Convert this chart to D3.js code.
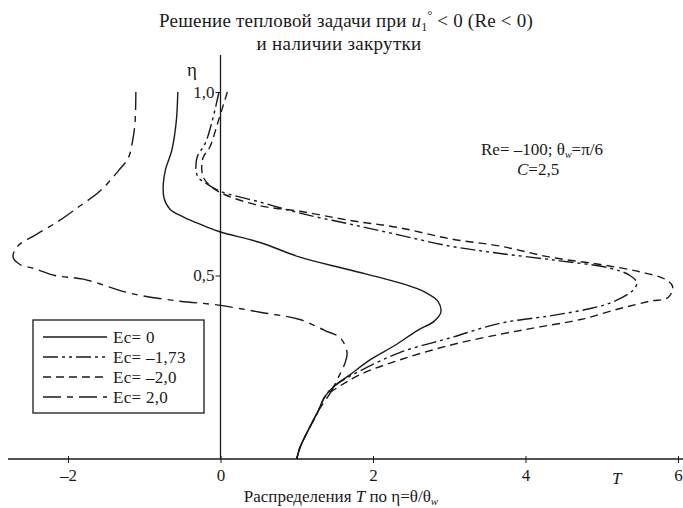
<!DOCTYPE html>
<html>
<head>
<meta charset="utf-8">
<script src="https://cdn.jsdelivr.net/npm/d3@7"></script>
<style>
  body { margin: 0; background: #fff; }
  svg text { font-family: "Liberation Serif", "DejaVu Serif", serif; fill: #1a1a1a; }
</style>
</head>
<body>
<svg id="chart" width="683" height="508"></svg>
<script>
// T (x) and eta (y) pairs, one list per Ec value
var ecZero = [
  [-0.56, 1.00], [-0.58, 0.92], [-0.64, 0.84], [-0.72, 0.79], [-0.75, 0.75], [-0.74, 0.71],
  [-0.66, 0.68], [-0.49, 0.66], [-0.27, 0.64], [-0.02, 0.62], [0.52, 0.59], [1.04, 0.55],
  [1.70, 0.515], [2.35, 0.48], [2.68, 0.455], [2.85, 0.43], [2.89, 0.40], [2.80, 0.375],
  [2.58, 0.35], [2.29, 0.31], [1.96, 0.27], [1.70, 0.23], [1.50, 0.20], [1.37, 0.17],
  [1.28, 0.13], [1.13, 0.07], [1.04, 0.03], [1.00, 0.00]
];
var ecM173 = [
  [-0.02, 1.00], [-0.11, 0.92], [-0.20, 0.86], [-0.31, 0.82], [-0.30, 0.77], [-0.18, 0.75],
  [-0.01, 0.73], [0.52, 0.70], [1.04, 0.67], [1.70, 0.64], [2.35, 0.61], [3.01, 0.58],
  [3.67, 0.56], [4.45, 0.54], [5.11, 0.52], [5.37, 0.50], [5.46, 0.48], [5.41, 0.46],
  [5.17, 0.43], [4.85, 0.41], [4.32, 0.39], [3.67, 0.37], [3.01, 0.33], [2.35, 0.29],
  [1.83, 0.24], [1.50, 0.20], [1.37, 0.17], [1.28, 0.13], [1.13, 0.07], [1.04, 0.03], [1.00, 0.00]
];
var ecM20 = [
  [0.09, 1.00], [-0.03, 0.92], [-0.14, 0.85], [-0.23, 0.82], [-0.23, 0.77], [-0.11, 0.74],
  [0.06, 0.72], [0.52, 0.69], [1.04, 0.675], [1.70, 0.65], [2.35, 0.63], [3.01, 0.60],
  [3.67, 0.58], [4.32, 0.55], [4.98, 0.53], [5.50, 0.51], [5.83, 0.49], [5.93, 0.47],
  [5.87, 0.44], [5.63, 0.43], [5.24, 0.41], [4.72, 0.38], [4.19, 0.36], [3.67, 0.34],
  [3.01, 0.31], [2.35, 0.27], [1.83, 0.23], [1.50, 0.19], [1.37, 0.17], [1.28, 0.13],
  [1.13, 0.07], [1.04, 0.03], [1.00, 0.00]
];
var ecP20 = [
  [-1.11, 1.00], [-1.12, 0.92], [-1.15, 0.87], [-1.21, 0.82], [-1.32, 0.79], [-1.58, 0.73],
  [-1.84, 0.69], [-2.11, 0.65], [-2.43, 0.61], [-2.66, 0.58], [-2.72, 0.55], [-2.63, 0.53],
  [-2.46, 0.52], [-2.17, 0.50], [-1.80, 0.49], [-1.15, 0.45], [-0.53, 0.43], [-0.05, 0.42],
  [0.52, 0.40], [1.04, 0.38], [1.37, 0.35], [1.57, 0.33], [1.66, 0.29], [1.63, 0.26],
  [1.54, 0.22], [1.44, 0.18], [1.28, 0.13], [1.13, 0.07], [1.04, 0.03], [1.00, 0.00]
];

var seriesNames = ["Ec= 0", "Ec= \u20131,73", "Ec= \u20132,0", "Ec= 2,0"];
var seriesData = [ecZero, ecM173, ecM20, ecP20];
var dashes = ["none", "15,4,3,4,3,4", "8,5", "18,6,6,6"];

var xTicks = [-2, 0, 2, 4, 6];
var yTicks = [0.5, 1.0];

var svg = d3.select("#chart");
var ink = "#1a1a1a";

var x = d3.scaleLinear().domain([-2, 6]).range([68, 678]);
var y = d3.scaleLinear().domain([0, 1]).range([459, 92]);

// title
var title = svg.append("text").attr("x", 346).attr("y", 27)
  .attr("text-anchor", "middle").attr("font-size", 19).attr("letter-spacing", 0.2);
title.append("tspan").text("Решение тепловой задачи при ");
title.append("tspan").attr("font-style", "italic").text("u");
title.append("tspan").attr("font-size", 12).attr("dy", 4).text("1");
title.append("tspan").attr("font-size", 12).attr("dy", -12).text("°");
title.append("tspan").attr("dy", 8).text(" < 0  (Re < 0)");
svg.append("text").attr("x", 339).attr("y", 50)
  .attr("text-anchor", "middle").attr("font-size", 19).attr("letter-spacing", 0.3)
  .text("и наличии закрутки");

// x axis
svg.append("line")
  .attr("x1", 8).attr("x2", 683).attr("y1", y(0)).attr("y2", y(0))
  .attr("stroke", ink).attr("stroke-width", 1.3);
var xAxis = svg.append("g").attr("transform", "translate(0," + y(0) + ")")
  .call(d3.axisBottom(x).tickValues(xTicks).tickSize(4).tickSizeOuter(0)
    .tickFormat(function(d) { return d < 0 ? "\u2013" + Math.abs(d) : d; }));
xAxis.select(".domain").remove();
xAxis.selectAll("line").attr("stroke", ink).attr("y1", -3);
xAxis.selectAll("text").attr("font-size", 17).attr("y", 10).attr("fill", ink);

// y axis
svg.append("line")
  .attr("x1", x(0)).attr("x2", x(0)).attr("y1", 55).attr("y2", y(0))
  .attr("stroke", ink).attr("stroke-width", 1.3);
var yAxis = svg.append("g").attr("transform", "translate(" + x(0) + ",0)")
  .call(d3.axisLeft(y).tickValues(yTicks).tickSize(5).tickSizeOuter(0)
    .tickFormat(function(d) { return d3.format(".1f")(d).replace(".", ","); }));
yAxis.select(".domain").remove();
yAxis.selectAll("line").attr("stroke", ink);
yAxis.selectAll("text").attr("font-size", 17).attr("fill", ink).attr("x", -6);

svg.append("text").attr("x", 187).attr("y", 76).attr("font-size", 19).text("η");
svg.append("text").attr("x", 612).attr("y", 484).attr("font-size", 17)
  .attr("font-style", "italic").text("T");

// axis title
var xt = svg.append("text").attr("x", 341).attr("y", 502)
  .attr("text-anchor", "middle").attr("font-size", 17);
xt.append("tspan").text("Распределения ");
xt.append("tspan").attr("font-style", "italic").text("T");
xt.append("tspan").text(" по η=θ/θ");
xt.append("tspan").attr("font-size", 11).attr("dy", 3).attr("font-style", "italic").text("w");

// parameters
var note = svg.append("text").attr("x", 542).attr("y", 155)
  .attr("text-anchor", "middle").attr("font-size", 17);
note.append("tspan").text("Re= \u2013100; θ");
note.append("tspan").attr("font-size", 10).attr("dy", 3).attr("font-style", "italic").text("w");
note.append("tspan").attr("dy", -3).text("=π/6");
var note2 = svg.append("text").attr("x", 517).attr("y", 175).attr("font-size", 17);
note2.append("tspan").attr("font-style", "italic").text("C");
note2.append("tspan").text("=2,5");

// curves
var line = d3.line()
  .x(function(d) { return x(d[0]); })
  .y(function(d) { return y(d[1]); })
  .curve(d3.curveCatmullRom.alpha(0.5));

svg.append("g").selectAll("path")
  .data(seriesData)
  .join("path")
  .attr("d", line)
  .attr("fill", "none")
  .attr("stroke", ink)
  .attr("stroke-width", 1.4)
  .attr("stroke-dasharray", function(d, i) { return dashes[i]; });

// legend
var lg = svg.append("g").attr("transform", "translate(33,320)");
lg.append("rect").attr("width", 171).attr("height", 93)
  .attr("fill", "#fff").attr("stroke", ink).attr("stroke-width", 1.3);
var rows = lg.selectAll("g.row").data(seriesNames).join("g")
  .attr("class", "row")
  .attr("transform", function(d, i) { return "translate(0," + (23 + i * 20) + ")"; });
rows.append("line")
  .attr("x1", 10).attr("x2", 74).attr("y1", -6).attr("y2", -6)
  .attr("stroke", ink).attr("stroke-width", 1.3)
  .attr("stroke-dasharray", function(d, i) { return dashes[i]; });
rows.append("text").attr("x", 80).attr("font-size", 17).attr("letter-spacing", 0.3)
  .text(function(d) { return d; });
</script>
</body>
</html>
